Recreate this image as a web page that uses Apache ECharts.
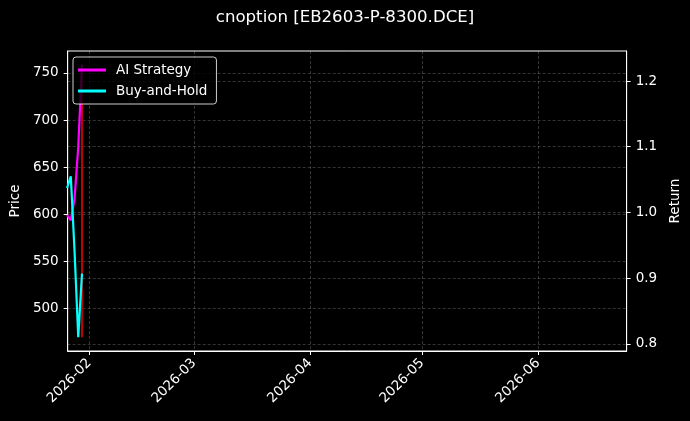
<!DOCTYPE html>
<html><head><meta charset="utf-8">
<script src="https://cdn.jsdelivr.net/npm/echarts@6/dist/echarts.min.js"></script>
<style>html,body{margin:0;padding:0;background:#000;} #c{width:690px;height:421px;}</style>
</head><body><div id="c"></div>
<script>
// ---- data ----
const dates = ['2026-01-26', '2026-01-27', '2026-01-28', '2026-01-29', '2026-01-30'];
const aiStrategy = [0.996, 0.988, 1.02, 1.10, 1.225];
const buyAndHold = [1.037, 1.055, 0.942, 0.810, 0.907];
const priceDates = ['2026-01-30', '2026-01-30'];
const price = [759, 469];
const monthTicks = ['2026-02-01', '2026-03-01', '2026-04-01', '2026-05-01', '2026-06-01'];
const priceTicks = [500, 550, 600, 650, 700, 750];
const returnTicks = [0.8, 0.9, 1.0, 1.1, 1.2];
const xRange = ['2026-01-26 04:00', '2026-06-24 17:00'];
const priceRange = [454.3, 773.4];
const returnRange = [0.789, 1.2457];

function ts(s) {
  const m = s.match(/(\d+)-(\d+)-(\d+)(?: (\d+):(\d+))?/);
  return new Date(+m[1], +m[2] - 1, +m[3], +(m[4] || 0), +(m[5] || 0)).getTime();
}
function pairs(xs, ys) { return xs.map((x, i) => [ts(x), ys[i]]); }

const FONT = 'DejaVu Sans';
const gridLine = { show: true, lineStyle: { color: 'rgba(255,255,255,0.25)', type: [3, 2], width: 0.8 } };
const monthTs = monthTicks.map(ts);

const chart = echarts.init(document.getElementById('c'), null, { renderer: 'canvas' });
chart.setOption({
  backgroundColor: '#000',
  animation: false,
  textStyle: { fontFamily: FONT },
  title: {
    text: 'cnoption [EB2603-P-8300.DCE]', left: 'center', top: 9, padding: 0,
    textStyle: { color: '#fff', fontSize: 16.6, fontWeight: 'normal', fontFamily: FONT }
  },
  legend: {
    data: ['AI Strategy', 'Buy-and-Hold'], orient: 'vertical', left: 73, top: 57,
    padding: [6, 9, 6, 5], itemGap: 7, itemWidth: 28, itemHeight: 3, icon: 'rect',
    backgroundColor: 'rgba(0,0,0,0.8)', borderColor: 'rgba(255,255,255,0.8)', borderWidth: 1, borderRadius: 3,
    textStyle: { color: '#fff', fontSize: 13.5, fontFamily: FONT, lineHeight: 14, padding: [0, 0, 0, 5] }
  },
  grid: { left: 66, right: 61, top: 51, bottom: 70, show: true, borderColor: '#fff', borderWidth: 1 },
  xAxis: {
    type: 'value', min: ts(xRange[0]), max: ts(xRange[1]),
    axisLine: { show: true, lineStyle: { color: '#fff' } },
    axisTick: { show: true, inside: false, length: 4, lineStyle: { color: '#fff' }, customValues: monthTs },
    axisLabel: {
      customValues: monthTs, rotate: 45, color: '#fff', fontSize: 13.5, margin: 10, fontFamily: FONT,
      formatter: function (v) { const d = new Date(v); return d.getFullYear() + '-' + String(d.getMonth() + 1).padStart(2, '0'); }
    },
    splitLine: gridLine
  },
  yAxis: [
    {
      type: 'value', position: 'left', min: priceRange[0], max: priceRange[1],
      name: 'Price', nameLocation: 'middle', nameGap: 40, nameRotate: 90,
      nameTextStyle: { color: '#fff', fontSize: 13.5, fontFamily: FONT },
      axisLine: { show: true, lineStyle: { color: '#fff' } },
      axisTick: { show: true, length: 4, customValues: priceTicks, lineStyle: { color: '#fff' } },
      axisLabel: { customValues: priceTicks, color: '#fff', fontSize: 13.5, margin: 9, fontFamily: FONT },
      splitLine: gridLine
    },
    {
      type: 'value', position: 'right', min: returnRange[0], max: returnRange[1],
      name: 'Return', nameLocation: 'middle', nameGap: 36, nameRotate: 90,
      nameTextStyle: { color: '#fff', fontSize: 13.5, fontFamily: FONT },
      axisLine: { show: true, lineStyle: { color: '#fff' } },
      axisTick: { show: true, length: 4, customValues: returnTicks, lineStyle: { color: '#fff' } },
      axisLabel: { customValues: returnTicks, color: '#fff', fontSize: 13.5, margin: 9, fontFamily: FONT,
        formatter: function (v) { return v.toFixed(1); } },
      splitLine: gridLine
    }
  ],
  series: [
    { name: 'Price', type: 'line', yAxisIndex: 0, data: pairs(priceDates, price), symbol: 'none',
      lineStyle: { color: '#ff0000', width: 1.5 }, itemStyle: { color: '#ff0000' }, z: 2 },
    { name: 'AI Strategy', type: 'line', yAxisIndex: 1, data: pairs(dates, aiStrategy), symbol: 'none',
      lineStyle: { color: '#ff00ff', width: 2.2 }, itemStyle: { color: '#ff00ff' }, z: 3 },
    { name: 'Buy-and-Hold', type: 'line', yAxisIndex: 1, data: pairs(dates, buyAndHold), symbol: 'none',
      lineStyle: { color: '#00ffff', width: 2.2 }, itemStyle: { color: '#00ffff' }, z: 3 }
  ]
});
</script>
</body></html>
